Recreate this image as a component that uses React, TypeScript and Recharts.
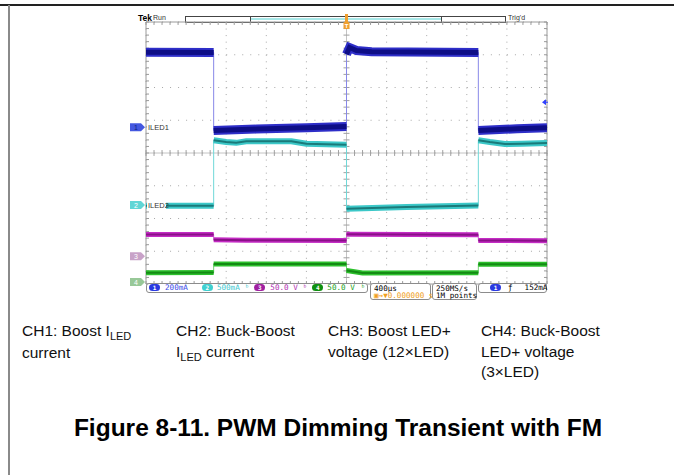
import React from "react";
import {
  ComposedChart,
  Line,
  XAxis,
  YAxis,
  CartesianGrid,
  ReferenceLine,
  ReferenceDot,
} from "recharts";

// time axis (µs), 400 µs/div, trigger at 0
const xMajor = [-2000, -1600, -1200, -800, -400, 0, 400, 800, 1200, 1600, 2000];
const yMajor = [-4, -3, -2, -1, 0, 1, 2, 3, 4];
const xMinor = Array.from({ length: 51 }, (_, i) => -2000 + i * 80);
const yMinor = Array.from({ length: 41 }, (_, i) => -4 + i * 0.2);

const channelNames = ["1", "2", "3", "4"];
const channelUnits = ["mA", "mA", "V", "V"];
const channelScale = [200, 500, 50, 50]; // per division
const channelGround = [0.79, -1.59, -3.15, -3.94]; // divisions from centre
const channelLabels = ["ILED1", "ILED2", "", ""];

// CH1: Boost ILED current (mA)
const ch1Trace = [
  { t: -2000, v: 458 }, { t: -1325, v: 456 },
  { t: -1325, v: -20 }, { t: -900, v: -12 }, { t: -400, v: -4 }, { t: 0, v: 4 },
  { t: 0, v: 445 }, { t: 30, v: 486 }, { t: 100, v: 468 }, { t: 250, v: 460 }, { t: 1315, v: 456 },
  { t: 1315, v: -20 }, { t: 1700, v: -10 }, { t: 2000, v: -4 },
];
// CH2: Buck-Boost ILED current (mA)
const ch2Trace = [
  { t: -2000, v: -12 }, { t: -1325, v: -12 },
  { t: -1325, v: 990 }, { t: -1200, v: 962 }, { t: -1100, v: 950 }, { t: -1000, v: 975 },
  { t: -550, v: 975 }, { t: -400, v: 935 }, { t: 0, v: 920 },
  { t: 0, v: -55 }, { t: 600, v: -30 }, { t: 1315, v: -5 },
  { t: 1315, v: 990 }, { t: 1430, v: 962 }, { t: 1580, v: 932 }, { t: 1750, v: 935 }, { t: 2000, v: 946 },
];
// CH3: Boost LED+ voltage (V)
const ch3Trace = [
  { t: -2000, v: 33.2 }, { t: -1325, v: 33.0 },
  { t: -1325, v: 25.0 }, { t: -1000, v: 24.4 }, { t: 0, v: 24.0 },
  { t: 0, v: 33.4 }, { t: 1315, v: 32.6 },
  { t: 1315, v: 24.0 }, { t: 2000, v: 23.4 },
];
// CH4: Buck-Boost LED+ voltage (V)
const ch4Trace = [
  { t: -2000, v: 14.2 }, { t: -1325, v: 14.4 },
  { t: -1325, v: 27.4 }, { t: 0, v: 27.6 },
  { t: 0, v: 17.5 }, { t: 160, v: 13.8 }, { t: 1315, v: 14.2 },
  { t: 1315, v: 27.0 }, { t: 2000, v: 27.2 },
];
const traces = [ch1Trace, ch2Trace, ch3Trace, ch4Trace];
const triggerLevel = 152; // mA on CH1

const edgeColors = ["#8888e8", "#70d8d8", "#d070d0", "#70d070"];
const bandColors = ["#2e2ec8", "#3cc8c8", "#c42cc4", "#2cc02c"];
const coreColors = ["#0e0e86", "#1a7a7a", "#8a1088", "#148a14"];
const bandWidths = [9, 6, 5, 5];
const coreWidths = [5, 2, 2, 2];
const markerColors = ["#4458e0", "#60d6d6", "#c8a2c8", "#98c898"];

const withBreaks = (pts: { t: number; v: number }[]) => {
  const out: { t: number; v: number | null }[] = [];
  pts.forEach((p, i) => {
    if (i > 0 && p.t === pts[i - 1].t) out.push({ t: p.t, v: null });
    out.push(p);
  });
  return out;
};

const domainOf = (i: number): [number, number] => [
  (-4 - channelGround[i]) * channelScale[i],
  (4 - channelGround[i]) * channelScale[i],
];

const mono = "'DejaVu Sans Mono', monospace";
const sans = "'Liberation Sans', Arial, sans-serif";
const frame = "#9a9a9a";

const Pill = ({ n, color }: { n: string; color: string }) => (
  <span
    style={{
      display: "inline-block",
      width: 11,
      height: 7,
      borderRadius: 4,
      background: color,
      color: "#fff",
      fontSize: 6,
      lineHeight: "7px",
      textAlign: "center",
      fontWeight: "bold",
      verticalAlign: "middle",
    }}
  >
    {n}
  </span>
);

const boxStyle: React.CSSProperties = {
  position: "absolute",
  top: 283,
  border: "1px solid #8c8c8c",
  borderRadius: 3,
  boxSizing: "border-box",
  background: "#fff",
  fontFamily: mono,
  fontSize: 7.6,
  whiteSpace: "nowrap",
};

const ChannelMarker = (props: any) => {
  const { cx, cy, idx } = props;
  const c = markerColors[idx];
  const label = channelLabels[idx];
  return (
    <g>
      <path
        d={`M${cx - 16},${cy - 4} L${cx - 5},${cy - 4} L${cx - 1},${cy} L${cx - 5},${cy + 4} L${cx - 16},${cy + 4} Z`}
        fill={c}
      />
      <text x={cx - 10} y={cy + 3} fontSize={7} fill={idx === 0 ? "#102080" : "#fff"} textAnchor="middle" fontFamily={sans}>
        {channelNames[idx]}
      </text>
      {label && (
        <>
          <rect x={cx + 1} y={cy - 4} width={19} height={8} fill="#fff" />
          <text x={cx + 2} y={cy + 3} fontSize={7.5} fill="#333" fontFamily={sans}>
            {label}
          </text>
        </>
      )}
    </g>
  );
};

const TriggerArrow = (props: any) => {
  const { cx, cy } = props;
  return (
    <path d={`M${cx - 5},${cy} L${cx - 1},${cy - 3} L${cx - 1},${cy + 3} Z M${cx - 2},${cy - 0.6} h3 v1.2 h-3 Z`} fill="#3040ff" />
  );
};

const TriggerPos = (props: any) => {
  const { cx, cy } = props;
  return (
    <g>
      <rect x={cx - 1.5} y={cy - 8} width={3} height={8} fill="#f0a030" />
      <rect x={cx - 3} y={cy} width={6} height={7} rx={1} fill="#f0a030" />
      <text x={cx} y={cy + 6} fontSize={6} fill="#fff" textAnchor="middle" fontFamily={sans} fontWeight="bold">
        T
      </text>
    </g>
  );
};

const Sub = ({ children }: { children: React.ReactNode }) => (
  <span style={{ fontSize: 11, position: "relative", top: 4 }}>{children}</span>
);

const captions = [
  { x: 22, lines: [<>CH1: Boost I<Sub>LED</Sub></>, <>current</>] },
  { x: 176, lines: [<>CH2: Buck-Boost</>, <>I<Sub>LED</Sub> current</>] },
  { x: 328, lines: [<>CH3: Boost LED+</>, <>voltage (12×LED)</>] },
  { x: 481, lines: [<>CH4: Buck-Boost</>, <>LED+ voltage</>, <>(3×LED)</>] },
];

const ax = { xAxisId: "x", yAxisId: "div" };

export default function App() {
  return (
    <div style={{ position: "absolute", left: 0, top: 0, width: 674, height: 475, background: "#fff", overflow: "hidden" }}>
      {/* page frame */}
      <div style={{ position: "absolute", left: 0, top: 4, width: 674, height: 1.5, background: "#222" }} />
      <div style={{ position: "absolute", left: 8, top: 5, width: 2, height: 470, background: "#8a8a8a" }} />

      {/* scope header */}
      <div style={{ position: "absolute", left: 138, top: 13, fontFamily: sans, fontSize: 8.5, fontWeight: "bold" }}>Tek</div>
      <div style={{ position: "absolute", left: 153, top: 14, fontFamily: sans, fontSize: 7, color: "#333" }}>Run</div>
      <div style={{ position: "absolute", left: 185, top: 16, width: 321, height: 7, border: "1px solid #444", boxSizing: "border-box" }} />
      <div style={{ position: "absolute", left: 250, top: 16, width: 192, height: 7, borderLeft: "1px solid #444", borderRight: "1px solid #444", boxSizing: "border-box" }}>
        <div style={{ marginTop: 2, height: 2, background: "#a8e8e8" }} />
      </div>
      <div style={{ position: "absolute", left: 508, top: 14, fontFamily: sans, fontSize: 7, color: "#333" }}>Trig'd</div>

      <div style={{ position: "absolute", left: 0, top: 0 }}>
        <ComposedChart width={674} height={305} margin={{ top: 22, left: 146, right: 127, bottom: 21 }}>
          <XAxis xAxisId="x" dataKey="t" type="number" domain={[-2000, 2000]} hide allowDataOverflow />
          <YAxis yAxisId="div" type="number" domain={[-4, 4]} hide allowDataOverflow />
          {channelNames.map((n, i) => (
            <YAxis key={n} yAxisId={`ch${i}`} type="number" hide domain={domainOf(i)} allowDataOverflow />
          ))}
          <CartesianGrid {...ax} horizontal={false} verticalValues={xMajor}
            stroke="#a8a8a8" strokeDasharray="1 5.55" />
          <CartesianGrid {...ax} vertical={false} horizontalValues={yMajor}
            stroke="#a8a8a8" strokeDasharray="1 7.02" />
          {/* centre cross */}
          <ReferenceLine {...ax} x={0} stroke="#c4c4c4" />
          <ReferenceLine {...ax} y={0} stroke="#c4c4c4" />
          {xMinor.map((t) => (
            <ReferenceLine key={`xt${t}`} {...ax} stroke="#a0a0a0"
              segment={[{ x: t, y: -0.09 }, { x: t, y: 0.09 }]} />
          ))}
          {yMinor.map((y, i) => (
            <ReferenceLine key={`yt${i}`} {...ax} stroke="#a0a0a0"
              segment={[{ x: -30, y }, { x: 30, y }]} />
          ))}
          {/* graticule border with ticks */}
          <ReferenceLine {...ax} x={-2000} stroke={frame} />
          <ReferenceLine {...ax} x={2000} stroke={frame} />
          <ReferenceLine {...ax} y={-4} stroke={frame} />
          <ReferenceLine {...ax} y={4} stroke={frame} />
          {xMinor.map((t) => (
            <ReferenceLine key={`bt${t}`} {...ax} stroke={frame} segment={[{ x: t, y: -4 }, { x: t, y: -3.91 }]} />
          ))}
          {xMinor.map((t) => (
            <ReferenceLine key={`tt${t}`} {...ax} stroke={frame} segment={[{ x: t, y: 4 }, { x: t, y: 3.91 }]} />
          ))}
          {yMinor.map((y, i) => (
            <ReferenceLine key={`lt${i}`} {...ax} stroke={frame} segment={[{ x: -2000, y }, { x: -1970, y }]} />
          ))}
          {yMinor.map((y, i) => (
            <ReferenceLine key={`rt${i}`} {...ax} stroke={frame} segment={[{ x: 2000, y }, { x: 1970, y }]} />
          ))}

          {traces.map((tr, i) => (
            <Line key={`edge${i}`} data={tr} xAxisId="x" yAxisId={`ch${i}`} dataKey="v" type="linear"
              stroke={edgeColors[i]} strokeWidth={1} dot={false} activeDot={false} isAnimationActive={false} />
          ))}
          {traces.map((tr, i) => (
            <Line key={`band${i}`} data={withBreaks(tr)} xAxisId="x" yAxisId={`ch${i}`} dataKey="v" type="linear"
              stroke={bandColors[i]} strokeWidth={bandWidths[i]} dot={false} activeDot={false}
              connectNulls={false} isAnimationActive={false} />
          ))}
          {traces.map((tr, i) => (
            <Line key={`core${i}`} data={withBreaks(tr)} xAxisId="x" yAxisId={`ch${i}`} dataKey="v" type="linear"
              stroke={coreColors[i]} strokeWidth={coreWidths[i]} dot={false} activeDot={false}
              connectNulls={false} isAnimationActive={false} />
          ))}

          {channelNames.map((n, i) => (
            <ReferenceDot key={`m${n}`} xAxisId="x" yAxisId={`ch${i}`} x={-2000} y={0}
              shape={(p: any) => <ChannelMarker {...p} idx={i} />} />
          ))}
          <ReferenceDot xAxisId="x" yAxisId="ch0" x={2000} y={triggerLevel} shape={(p: any) => <TriggerArrow {...p} />} />
          <ReferenceDot {...ax} x={0} y={4} shape={(p: any) => <TriggerPos {...p} />} />
        </ComposedChart>
      </div>

      {/* status bar */}
      <div style={{ ...boxStyle, left: 146, width: 222, height: 10, lineHeight: "8px", paddingLeft: 2 }}>
        <Pill n="1" color="#2a3ae0" />
        <span style={{ color: "#3a4ae8", marginLeft: 5 }}>{channelScale[0]}{channelUnits[0]}</span>
        <span style={{ marginLeft: 14 }}><Pill n="2" color="#40d0d0" /></span>
        <span style={{ color: "#40c8d0", marginLeft: 4 }}>{channelScale[1]}{channelUnits[1]}</span>
        <span style={{ color: "#40c8d0", marginLeft: 5 }}>ᵇ</span>
        <span style={{ marginLeft: 5 }}><Pill n="3" color="#a020a0" /></span>
        <span style={{ color: "#b030b0", marginLeft: 5 }}>{channelScale[2].toFixed(1)} {channelUnits[2]}</span>
        <span style={{ color: "#b030b0", marginLeft: 5 }}>ᵇ</span>
        <span style={{ marginLeft: 5 }}><Pill n="4" color="#109010" /></span>
        <span style={{ color: "#20a020", marginLeft: 4 }}>{channelScale[3].toFixed(1)} {channelUnits[3]}</span>
        <span style={{ color: "#20a020", marginLeft: 6 }}>ᵇ</span>
      </div>
      <div style={{ ...boxStyle, left: 370, width: 61, height: 17, lineHeight: "7.5px", paddingLeft: 3, paddingTop: 0.5 }}>
        <div>400µs</div>
        <div style={{ color: "#f0a020" }}>▣→▼0.000000 s</div>
      </div>
      <div style={{ ...boxStyle, left: 432, width: 45, height: 17, lineHeight: "7.5px", paddingLeft: 3, paddingTop: 0.5 }}>
        <div>250MS/s</div>
        <div>1M points</div>
      </div>
      <div style={{ ...boxStyle, left: 478, width: 69, height: 10, lineHeight: "8px", paddingLeft: 11 }}>
        <Pill n="1" color="#2a3ae0" />
        <span style={{ marginLeft: 7 }}>ƒ</span>
        <span style={{ marginLeft: 12 }}>{triggerLevel}mA</span>
      </div>

      {/* captions */}
      {captions.map((c, i) => (
        <div key={i} style={{ position: "absolute", left: c.x, top: 321, width: 150, fontFamily: sans, fontSize: 15.5, lineHeight: "20.5px", color: "#111" }}>
          {c.lines.map((l, j) => (
            <div key={j} style={{ whiteSpace: "nowrap" }}>{l}</div>
          ))}
        </div>
      ))}
      <div style={{ position: "absolute", left: 0, top: 413, width: 676, textAlign: "center", fontFamily: sans, fontSize: 24.5, fontWeight: "bold", lineHeight: "30px", color: "#000" }}>
        Figure 8-11. PWM Dimming Transient with FM
      </div>
    </div>
  );
}
